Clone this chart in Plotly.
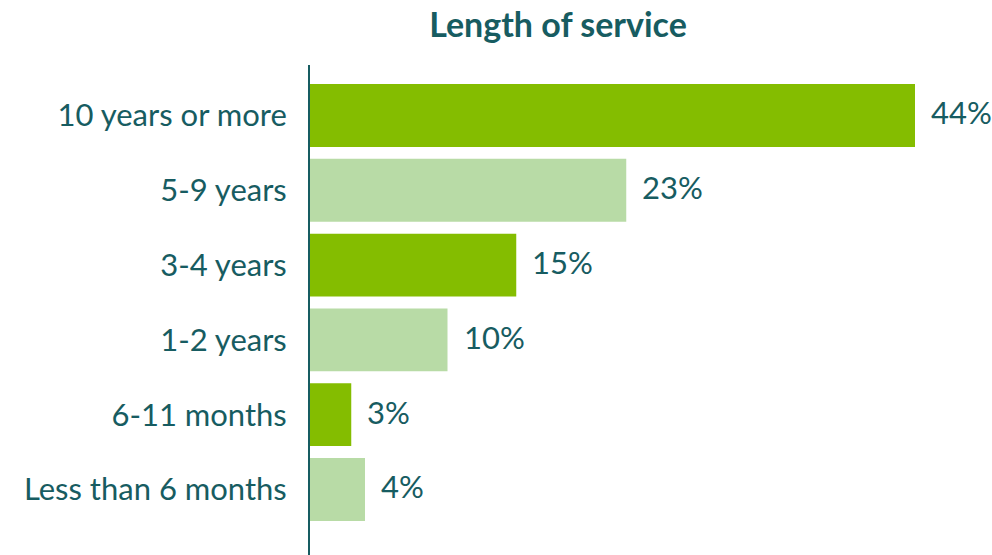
import plotly.graph_objects as go

categories = ["Less than 6 months", "6-11 months", "1-2 years", "3-4 years", "5-9 years", "10 years or more"]
values = [4, 3, 10, 15, 23, 44]
colors = ["#b8dba6", "#84bd00", "#b8dba6", "#84bd00", "#b8dba6", "#84bd00"]
labels = [f"{v}%" for v in values]

TEXT = "#175c61"
FONT = "Lato"

fig = go.Figure()
fig.add_trace(go.Bar(
    y=categories, x=values, orientation="h",
    marker=dict(color=colors, line=dict(width=0)),
    hoverinfo="skip",
))

for c, v, t in zip(categories, values, labels):
    fig.add_annotation(x=v, y=c, text=t, showarrow=False, xanchor="left",
                       xshift=14, yshift=3, font=dict(family=FONT, size=31, color=TEXT))

fig.update_layout(
    width=992, height=555,
    margin=dict(l=310, r=0, t=65, b=0),
    paper_bgcolor="white", plot_bgcolor="white",
    bargap=0.16,
    showlegend=False,
    title=dict(text="<b>Length of service</b>", x=558/992, xanchor="center",
               y=1 - 25/555, yanchor="middle", xref="container", yref="container",
               font=dict(family=FONT, size=34, color=TEXT)),
    xaxis=dict(visible=False, range=[0, 682/13.75]),
    yaxis=dict(categoryorder="array", categoryarray=categories,
               range=[-0.876, 5.675], showline=True, linecolor=TEXT, linewidth=2,
               ticks="", showgrid=False, zeroline=False, ticklabelstandoff=15,
               tickfont=dict(family=FONT, size=31, color=TEXT)),
)

fig.write_html("out.html")
